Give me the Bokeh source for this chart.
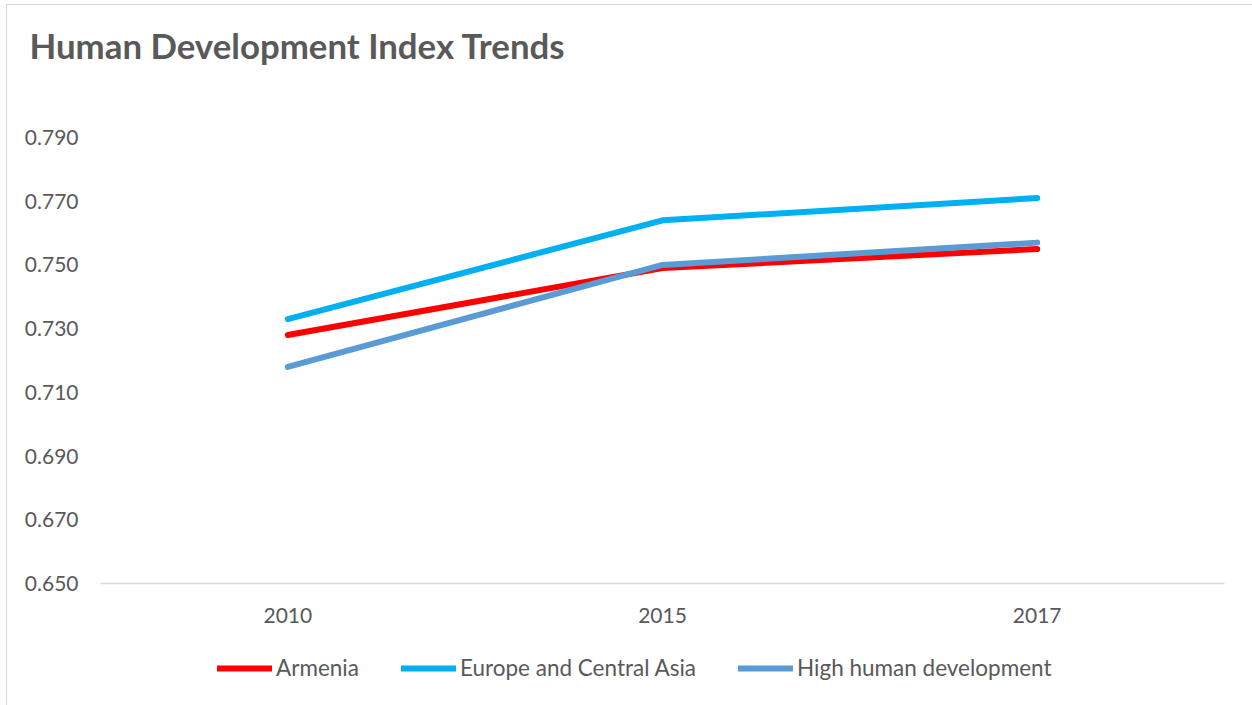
from bokeh.plotting import figure
from bokeh.layouts import column
from bokeh.models import (Range1d, FactorRange, Legend, LegendItem, Title,
                          FixedTicker, NumeralTickFormatter)
from bokeh.embed import file_html
from bokeh.resources import INLINE

years = ["2010", "2015", "2017"]
armenia = [0.728, 0.749, 0.755]
europe_central_asia = [0.733, 0.764, 0.771]
high_human_dev = [0.718, 0.750, 0.757]
series_names = ["Armenia", "Europe and Central Asia", "High human development"]
series_colors = ["#FF0000", "#00B0F0", "#5B9BD5"]
y_ticks = [0.650, 0.670, 0.690, 0.710, 0.730, 0.750, 0.770, 0.790]
title_text = "Human Development Index Trends"

FONT = "Lato"
GRAY = "#595959"
series = [armenia, europe_central_asia, high_human_dev]

p = figure(width=1245, height=635, output_backend="svg", toolbar_location=None,
           x_range=FactorRange(*years, range_padding=0),
           y_range=Range1d(0.650, 0.790),
           min_border_left=93, min_border_right=28,
           min_border_top=131, min_border_bottom=57)
p.outline_line_color = None
p.background_fill_color = "white"
p.border_fill_color = "white"
p.xgrid.grid_line_color = None
p.ygrid.grid_line_color = None

# spacer between title and plot area (nearest to the frame)
p.add_layout(Title(text=" ", text_font_size="1px", standoff=48), "above")

p.title.text = title_text
p.title.text_font = FONT
p.title.text_font_size = "34.8px"
p.title.text_font_style = "bold"
p.title.text_color = GRAY
p.title.align = "left"
p.title.vertical_align = "top"
p.title.offset = -71
p.title.standoff = 38

# y axis
p.yaxis.ticker = FixedTicker(ticks=y_ticks)
p.yaxis.formatter = NumeralTickFormatter(format="0.000")
p.yaxis.axis_line_color = None
p.yaxis.major_tick_line_color = None
p.yaxis.minor_tick_line_color = None
p.yaxis.major_label_text_font = FONT
p.yaxis.major_label_text_font_size = "21px"
p.yaxis.major_label_text_color = GRAY
p.yaxis.major_label_standoff = 16

# x axis
p.xaxis.axis_line_color = "#D9D9D9"
p.xaxis.axis_line_width = 1.5
p.xaxis.major_tick_line_color = None
p.xaxis.minor_tick_line_color = None
p.xaxis.major_label_text_font = FONT
p.xaxis.major_label_text_font_size = "21px"
p.xaxis.major_label_text_color = GRAY
p.xaxis.major_label_standoff = 18

for vals, col in zip(series, series_colors):
    p.line(years, vals, line_color=col, line_width=6, line_cap="round", line_join="round")

# legend strip below the chart (separate canvas so the legend is not clipped)
lg = figure(width=1245, height=65, output_backend="svg", toolbar_location=None,
            x_range=FactorRange(*years), y_range=Range1d(10, 11),
            x_axis_type=None, y_axis_type=None, min_border=0)
lg.outline_line_color = None
lg.xgrid.grid_line_color = None
lg.ygrid.grid_line_color = None
leg_renderers = []
for vals, col in zip(series, series_colors):
    r = lg.line(years, vals, line_color=col, line_width=6, line_cap="round")
    leg_renderers.append(r)

legend = Legend(items=[LegendItem(label=n, renderers=[r]) for n, r in zip(series_names, leg_renderers)],
                orientation="horizontal", location=(117, 24),
                glyph_width=55, glyph_height=26, label_standoff=4, spacing=42,
                label_text_font=FONT, label_text_font_size="22.5px", label_text_color=GRAY,
                border_line_color=None, background_fill_alpha=0, margin=0, padding=0)
lg.add_layout(legend, "center")

layout = column(p, lg, spacing=0, margin=(4, 0, 0, 6),
                styles={"border-top": "1px solid #D9D9D9", "border-left": "1px solid #D9D9D9"})
open("out.html", "w").write(file_html(layout, INLINE))
